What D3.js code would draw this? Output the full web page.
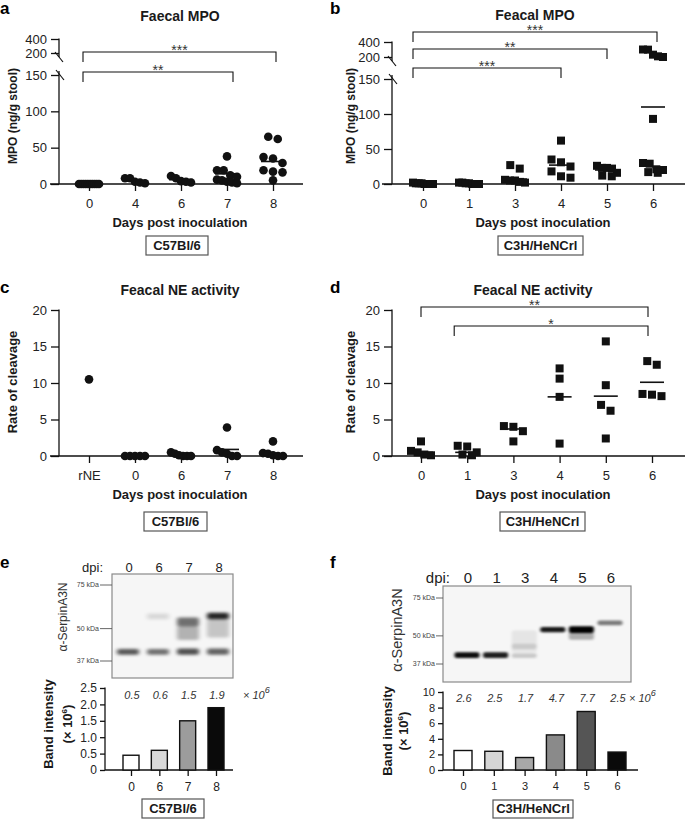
<!DOCTYPE html>
<html><head><meta charset="utf-8">
<script src="https://cdn.jsdelivr.net/npm/d3@7"></script>
<style>body{margin:0;background:#fff}svg{display:block}</style>
</head><body>
<svg id="fig" width="685" height="820"></svg>
<script>
// ---------------- DATA ----------------
// Panel a – Faecal MPO (ng/g stool), C57Bl/6
const aDays = ["0","4","6","7","8"];
const aMPO = [
  [0,0,0,0,0,0,0,0,0,0],
  [8,8,3,2,1],
  [11,8,4,3,2],
  [38,19,19,12,10,6,5,3,2,1],
  [65,62,37,35,29,19,17,16,5]
];
const aCentre = [0,4,6,14,31];
const aSig = [["0","8","***"],["0","7","**"]];

// Panel b – Feacal MPO, C3H/HeNCrl
const bDays = ["0","1","3","4","5","6"];
const bMPO = [
  [2,1,1,1,0,0,0,0],
  [2,2,1,1,0,0,0],
  [27,22,6,5,5,3,2],
  [62,35,31,25,18,11,9],
  [26,23,23,22,16,12,11],
  [300,298,231,209,200,93,30,29,21,20,17,16]
];
const bCentre = [1,1,7,27,20,110];
const bSig = [["0","6","***"],["0","5","**"],["0","4","***"]];

// Panel c – Feacal NE activity, C57Bl/6
const cGroups = ["rNE","0","6","7","8"];
const cNE = [
  [10.5],
  [0,0,0,0,0],
  [0.5,0.3,0.1,0,0,0],
  [3.9,0.8,0.5,0.3,0,0],
  [2.0,0.4,0.3,0.1,0,0]
];
const cCentre = [null,0,0.2,0.9,0.3];

// Panel d – Feacal NE activity, C3H/HeNCrl
const dDays = ["0","1","3","4","5","6"];
const dNE = [
  [2.0,0.7,0.5,0.2,0.1],
  [1.4,1.3,0.5,0.2,0.1],
  [4.1,4.0,3.4,2.0],
  [12.0,10.6,8.1,1.7],
  [15.7,9.7,7.0,6.2,2.4],
  [13.0,12.5,8.5,8.4,8.2]
];
const dCentre = [0.5,0.5,3.7,8.1,8.2,10.1];
const dSig = [["0","6","**"],["1","6","*"]];

// Panel e – western blot + band intensity, C57Bl/6
const eDpi = ["0","6","7","8"];
const eIntensity = [0.45,0.6,1.5,1.9];
const eLabels = ["0.5","0.6","1.5","1.9"];
const eBands = [ // lane, kDa low, kDa high, darkness
  ["0",39.2,41.4,0.65],
  ["6",39.2,41.4,0.55],["6",54.5,57.5,0.12],
  ["7",39.2,41.6,0.68],["7",51,55.5,0.55],["7",45,51,0.28],
  ["8",39.2,41.6,0.6],["8",54.5,58,0.85],["8",46,54.5,0.2]
];

// Panel f – western blot + band intensity, C3H/HeNCrl
const fDpi = ["0","1","3","4","5","6"];
const fIntensity = [2.5,2.4,1.6,4.5,7.5,2.3];
const fLabels = ["2.6","2.5","1.7","4.7","7.7","2.5"];
const fBands = [
  ["0",39.5,42,0.95],
  ["1",39.5,42,0.88],
  ["3",39.5,41.5,0.18],["3",43.5,46,0.12],["3",42,53,0.07],
  ["4",52,55,0.9],
  ["5",51.5,55.5,1.0],["5",48,52,0.3],
  ["6",56,59,0.5]
];
const markers = [75,50,37];

// ---------------- DRAWING ----------------
const FAM = '"Liberation Sans", Arial, Helvetica, sans-serif';
const INK = "#111";
const svg = d3.select("#fig");
const defs = svg.append("defs");
defs.append("filter").attr("id","blurE").attr("filterUnits","userSpaceOnUse")
  .attr("x",100).attr("y",560).attr("width",150).attr("height",130)
  .append("feGaussianBlur").attr("stdDeviation","2.2 1.8");
defs.append("filter").attr("id","blurF").attr("filterUnits","userSpaceOnUse")
  .attr("x",430).attr("y",575).attr("width",220).attr("height",120)
  .append("feGaussianBlur").attr("stdDeviation","1.6 1.3");

function T(parent, x, y, str, size, o = {}) {
  const t = parent.append("text").attr("x", x).attr("y", y)
    .attr("font-family", FAM).attr("font-size", size)
    .attr("font-weight", o.bold ? "bold" : "normal")
    .attr("text-anchor", o.anchor || "middle")
    .attr("fill", o.fill || "#1a1a1a");
  if (o.italic) t.attr("font-style", "italic");
  if (o.rot) t.attr("transform", `rotate(-90,${x},${y})`);
  if (str !== null) t.text(str);
  return t;
}
function L(parent, x1, y1, x2, y2, w = 1.3, c = INK) {
  return parent.append("line").attr("x1",x1).attr("y1",y1).attr("x2",x2).attr("y2",y2)
    .attr("stroke", c).attr("stroke-width", w);
}

// place points of one group in rows (Prism-like scatter)
function spread(vals, y, size, maxHalf) {
  const pts = vals.map(v => ({ v, py: y(v) })).sort((a, b) => a.py - b.py);
  const rows = []; let cur = null;
  pts.forEach(p => {
    if (cur && Math.abs(p.py - cur[0].py) < size * 0.95) cur.push(p);
    else { cur = [p]; rows.push(cur); }
  });
  rows.forEach(r => {
    const n = r.length;
    const sp = n > 1 ? Math.min(size + 1, 2 * maxHalf / (n - 1)) : 0;
    r.forEach((p, i) => p.dx = (i - (n - 1) / 2) * sp);
  });
  return pts;
}

function scatterPanel(c) {
  const g = svg.append("g");
  const x = d3.scalePoint().domain(c.cats).range(c.xr);
  const y = c.y;
  const ga = g.append("g").attr("transform", `translate(${c.ax},0)`)
    .call(d3.axisLeft(y).tickValues(c.ticks).tickSize(8).tickPadding(4).tickFormat(d3.format("d")));
  ga.select(".domain").remove();
  ga.selectAll("line").attr("stroke", INK).attr("stroke-width", 1.3);
  ga.selectAll("text").attr("font-family", FAM).attr("font-size", 13).attr("fill", "#222");
  const y0 = y(0);
  if (c.brk) {
    const yb1 = y(200) + 4, yb2 = y(150);
    L(g, c.ax, y(400) - 0.6, c.ax, yb1);
    L(g, c.ax, yb2 - 4, c.ax, y0);
    L(g, c.ax - 4, yb1 - 5, c.ax + 4, yb1 + 5, 1.2);
    L(g, c.ax - 3, yb2 - 5, c.ax + 5, yb2 + 5, 1.2);
  } else {
    L(g, c.ax, y(c.ticks[c.ticks.length - 1]) - 0.6, c.ax, y0);
  }
  L(g, c.xs, y0, c.xe, y0);
  const gx = g.append("g").attr("transform", `translate(0,${y0})`)
    .call(d3.axisBottom(x).tickSize(7).tickPadding(8));
  gx.select(".domain").remove();
  gx.selectAll("line").attr("stroke", INK).attr("stroke-width", 1.3);
  gx.selectAll("text").attr("font-family", FAM).attr("font-size", 13).attr("fill", "#222");
  c.centre.forEach((m, i) => {
    if (m === null) return;
    const cx = x(c.cats[i]);
    L(g, cx - 12, y(m), cx + 12, y(m), 1.6);
  });
  c.data.forEach((vals, i) => {
    const cx = x(c.cats[i]);
    spread(vals, y, 8.5, 10).forEach(p => {
      if (c.shape === "square")
        g.append("rect").attr("x", cx + p.dx - 4).attr("y", p.py - 4).attr("width", 8).attr("height", 8).attr("fill", INK);
      else
        g.append("circle").attr("cx", cx + p.dx).attr("cy", p.py).attr("r", 4.3).attr("fill", INK);
    });
  });
  (c.sig || []).forEach((s, k) => {
    const x1 = x(s[0]) + c.sigOff[k][0], x2 = x(s[1]) + c.sigOff[k][1], yb = c.sigY[k];
    g.append("path").attr("d", `M${x1},${yb + 10}V${yb}H${x2}V${yb + 10}`)
      .attr("fill", "none").attr("stroke", INK).attr("stroke-width", 1.1);
    T(g, (x1 + x2) / 2, yb + 3, s[2], 14, { fill: "#333" });
  });
  T(g, c.titleX, c.titleY, c.title, 14, { bold: true });
  T(g, c.ylx, c.yly, c.ylab, c.ylabSize, { bold: true, rot: true });
  T(g, c.xlx, y0 + 43, "Days post inoculation", 13, { bold: true });
  g.append("rect").attr("x", c.box[0]).attr("y", c.box[1]).attr("width", c.box[2] - c.box[0]).attr("height", c.box[3] - c.box[1])
    .attr("fill", "none").attr("stroke", "#555").attr("stroke-width", 1.2);
  T(g, (c.box[0] + c.box[2]) / 2, c.box[3] - 5, c.strain, 13, { bold: true });
}

const yA = d3.scaleLinear().domain([0,150,200,400]).range([184,75,53,39]);
const yB = d3.scaleLinear().domain([0,150,200,400]).range([184,79,57,42]);
const yNE = d3.scaleLinear().domain([0,20]).range([456,310]);

scatterPanel({ cats: aDays, data: aMPO, centre: aCentre, xr: [89,273], y: yA, ax: 59, xs: 50, xe: 303,
  ticks: [0,50,100,150,200,400], brk: true, shape: "circle", sig: aSig, sigY: [52,72], sigOff: [[-6,3],[-6,6]],
  title: "Faecal MPO", titleX: 180, titleY: 21, ylab: "MPO (ng/g stool)", ylabSize: 12, ylx: 17, yly: 116,
  xlx: 180, box: [146,236,208,255], strain: "C57Bl/6" });
scatterPanel({ cats: bDays, data: bMPO, centre: bCentre, xr: [423,653], y: yB, ax: 392, xs: 382, xe: 685,
  ticks: [0,50,100,150,200,400], brk: true, shape: "square", sig: bSig, sigY: [32,49,68], sigOff: [[-10,4],[-10,0],[-10,0]],
  title: "Feacal MPO", titleX: 535, titleY: 20, ylab: "MPO (ng/g stool)", ylabSize: 12, ylx: 355, yly: 116,
  xlx: 543, box: [498,236,583,255], strain: "C3H/HeNCrl" });
scatterPanel({ cats: cGroups, data: cNE, centre: cCentre, xr: [89,273], y: yNE, ax: 59, xs: 50, xe: 303,
  ticks: [0,5,10,15,20], brk: false, shape: "circle",
  title: "Feacal NE activity", titleX: 180, titleY: 295, ylab: "Rate of cleavage", ylabSize: 13, ylx: 17, yly: 382,
  xlx: 180, box: [144,512,207,531], strain: "C57Bl/6" });
scatterPanel({ cats: dDays, data: dNE, centre: dCentre, xr: [421,652], y: yNE, ax: 392, xs: 382, xe: 685,
  ticks: [0,5,10,15,20], brk: false, shape: "square", sig: dSig, sigY: [307,326], sigOff: [[0,-4],[-13,-4]],
  title: "Feacal NE activity", titleX: 533, titleY: 295, ylab: "Rate of cleavage", ylabSize: 13, ylx: 355, yly: 382,
  xlx: 543, box: [500,512,585,531], strain: "C3H/HeNCrl" });

[["a",0,14],["b",330,14],["c",0,293],["d",330,293],["e",0,568],["f",330,568]].forEach(d =>
  T(svg, d[1], d[2], d[0], 17, { bold: true, anchor: "start", fill: "#000" }));

function blotPanel(c) {
  const g = svg.append("g");
  const lx = d3.scalePoint().domain(c.lanes).range(c.laneR);
  const yk = d3.scaleLog().domain([37,75]).range(c.kR);
  g.append("rect").attr("x", c.bx[0]).attr("y", c.bx[1]).attr("width", c.bx[2] - c.bx[0]).attr("height", c.bx[3] - c.bx[1])
    .attr("fill", "#f6f6f6").attr("stroke", "#8a8a8a").attr("stroke-width", 1.2);
  const gb = g.append("g").attr("filter", `url(#${c.blur})`);
  c.bands.forEach(b => {
    const y1 = yk(b[2]), y2 = yk(b[1]);
    gb.append("rect").attr("x", lx(b[0]) - c.laneW / 2).attr("y", y1).attr("width", c.laneW).attr("height", y2 - y1)
      .attr("rx", 2).attr("fill", "#000").attr("opacity", b[3]);
  });
  markers.forEach(m => {
    L(g, c.bx[0] - c.mt, yk(m), c.bx[0], yk(m), 0.9, "#555");
    T(g, c.bx[0] - c.mt - 1, yk(m) + 2.4, m + " kDa", 7, { anchor: "end", fill: "#444" });
  });
  T(g, c.dpiX, c.dpiY, "dpi:", c.dpiSize, { anchor: "end", fill: "#222" });
  c.lanes.forEach(l => T(g, lx(l) + 1, c.dpiY, l, c.dpiSize, { fill: "#222" }));
  T(g, c.abX, c.abY, "α-SerpinA3N", c.abSize, { rot: true, fill: "#333" });

  const x = d3.scalePoint().domain(c.lanes).range(c.barR);
  const y = d3.scaleLinear().domain([0, c.ymax]).range([770, c.yTop]);
  const ga = g.append("g").attr("transform", `translate(${c.ax},0)`)
    .call(d3.axisLeft(y).tickValues(c.ticks).tickSize(5).tickPadding(3).tickFormat(c.fmt));
  ga.select(".domain").remove();
  ga.selectAll("line").attr("stroke", INK).attr("stroke-width", 1.3);
  ga.selectAll("text").attr("font-family", FAM).attr("font-size", c.tickSize).attr("fill", "#222");
  L(g, c.ax, c.yTop - 0.6, c.ax, 770);
  L(g, c.ax, 770, c.xe, 770);
  const gx = g.append("g").attr("transform", "translate(0,770)")
    .call(d3.axisBottom(x).tickSize(6).tickPadding(6));
  gx.select(".domain").remove();
  gx.selectAll("line").attr("stroke", INK).attr("stroke-width", 1.3);
  gx.selectAll("text").attr("font-family", FAM).attr("font-size", c.tickSize).attr("fill", "#222");
  c.values.forEach((v, i) => {
    g.append("rect").attr("x", x(c.lanes[i]) - c.bw / 2).attr("y", y(v)).attr("width", c.bw).attr("height", 770 - y(v))
      .attr("fill", c.fills[i]).attr("stroke", INK).attr("stroke-width", 1.4);
    T(g, x(c.lanes[i]) + 1, c.labY, c.labels[i], 11, { italic: true, fill: "#333" });
  });
  const tt = T(g, c.expX, c.labY, null, 11, { italic: true, anchor: "start", fill: "#333" });
  tt.append("tspan").text("× 10");
  tt.append("tspan").text("6").attr("font-size", 9).attr("dy", -6);
  T(g, c.ylx1, c.yly, "Band intensity", 13, { bold: true, rot: true });
  const yl2 = T(g, c.ylx2, c.yly, null, 13, { bold: true, rot: true });
  yl2.append("tspan").text("(× 10");
  yl2.append("tspan").text("6").attr("font-size", 8).attr("dy", -5);
  yl2.append("tspan").text(")").attr("dy", 5);
  g.append("rect").attr("x", c.box[0]).attr("y", c.box[1]).attr("width", c.box[2] - c.box[0]).attr("height", c.box[3] - c.box[1])
    .attr("fill", "none").attr("stroke", "#555").attr("stroke-width", 1.2);
  T(g, (c.box[0] + c.box[2]) / 2, c.box[3] - 5, c.strain, 13, { bold: true });
}

blotPanel({ lanes: eDpi, bands: eBands, laneR: [128,218], laneW: 22, kR: [661,585], bx: [112,574,233,678], mt: 12, blur: "blurE",
  dpiX: 103, dpiY: 572, dpiSize: 13, abX: 67, abY: 617, abSize: 12,
  barR: [131,216], ymax: 2.5, yTop: 688, ax: 105, xe: 233, ticks: [0,0.5,1,1.5,2,2.5],
  fmt: d => d === 0 ? "0" : d3.format(".1f")(d), tickSize: 12, values: eIntensity, labels: eLabels, bw: 16,
  fills: ["#ffffff","#d9d9d9","#9c9c9c","#0a0a0a"], labY: 699, expX: 243,
  ylx1: 53, ylx2: 72, yly: 724, box: [142,799,204,818], strain: "C57Bl/6" });

blotPanel({ lanes: fDpi, bands: fBands, laneR: [467,610], laneW: 25, kR: [664,598], bx: [443,586,631,682], mt: 7, blur: "blurF",
  dpiX: 450, dpiY: 583, dpiSize: 15, abX: 402, abY: 630, abSize: 14.5,
  barR: [463,617], ymax: 10, yTop: 692, ax: 443, xe: 638, ticks: [0,2,4,6,8,10],
  fmt: d3.format("d"), tickSize: 11, values: fIntensity, labels: fLabels, bw: 18,
  fills: ["#ffffff","#d6d6d6","#a8a8a8","#8a8a8a","#555555","#0a0a0a"], labY: 702, expX: 629,
  ylx1: 392, ylx2: 408, yly: 731, box: [493,800,573,818], strain: "C3H/HeNCrl" });
</script>
</body></html>
